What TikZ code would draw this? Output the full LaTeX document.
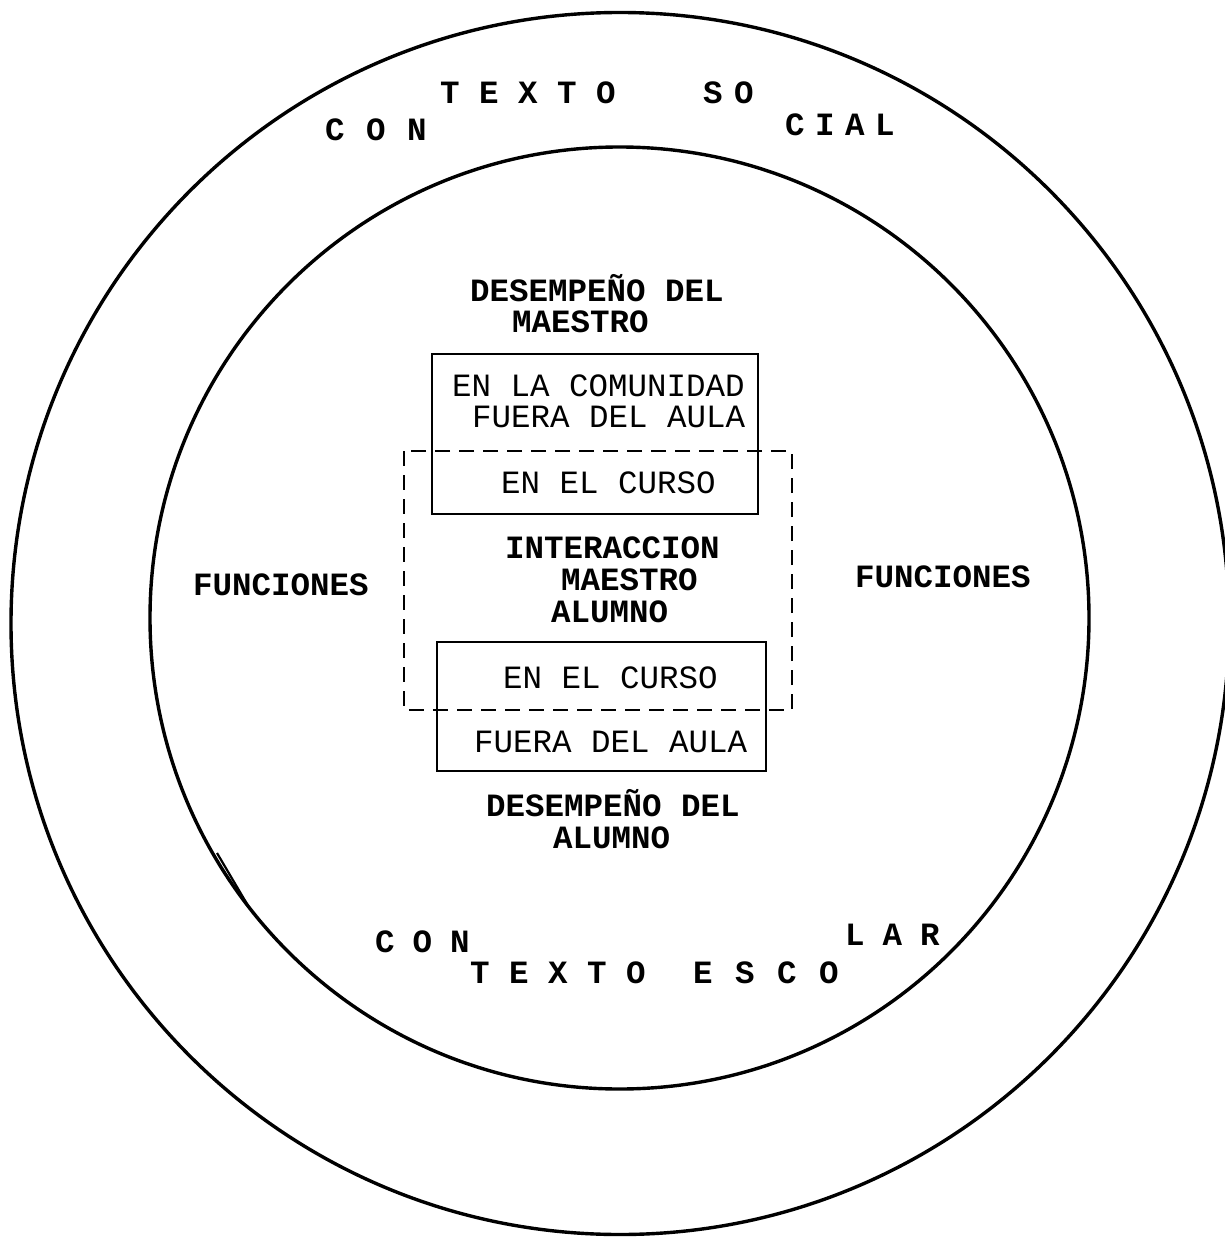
\documentclass[tikz,border=0pt]{standalone}
\usepackage{fontspec}
\setmonofont{Liberation Mono}
\newlength\lpitch
\newcommand\spl[1]{\makebox[\lpitch][l]{#1}}
\begin{document}
\begin{tikzpicture}[x=1pt,y=-1pt,
  ring/.style={line width=3.4pt},
  solidbox/.style={line width=2.8pt},
  dashbox/.style={line width=2.6pt,dash pattern=on 15pt off 9pt},
  reg/.style={anchor=west,inner sep=0pt,text height=21pt,text depth=0pt,font=\fontsize{32.5}{34}\selectfont\ttfamily},
  bld/.style={anchor=west,inner sep=0pt,text height=21pt,text depth=0pt,font=\fontsize{32.5}{34}\selectfont\ttfamily\bfseries},
]
\useasboundingbox (0,0) rectangle (1224,1238);
% rings
\draw[ring] (620,623.5) ellipse [x radius=609, y radius=611];
\draw[ring] (619.5,618) ellipse [x radius=469.5, y radius=471];
\draw[line width=2.2pt] (217,853) -- (250,909);
% boxes
\draw[solidbox] (432,354) rectangle (758,514);
\draw[dashbox] (404,451) rectangle (792,710);
\draw[solidbox] (437,642) rectangle (766,771);
% texts
\node[bld] (dm1) at (470,291) {DESEMPEÑO DEL};
\node[bld] (dm2) at (512,322) {MAESTRO};
\node[reg] (c1) at (452,386) {EN LA COMUNIDAD};
\node[reg] (c2) at (472,417) {FUERA DEL AULA};
\node[reg] (c3) at (501,483) {EN EL CURSO};
\node[bld] (i1) at (505,548) {INTERACCION};
\node[bld] (i2) at (561,580) {MAESTRO};
\node[bld] (i3) at (551,612) {ALUMNO};
\node[reg] (a1) at (503,678) {EN EL CURSO};
\node[reg] (a2) at (474,742) {FUERA DEL AULA};
\node[bld] (da1) at (486,806) {DESEMPEÑO DEL};
\node[bld] (da2) at (553,838) {ALUMNO};
\node[bld] (fl) at (193,585) {FUNCIONES};
\node[bld] (fr) at (855,577) {FUNCIONES};
% spaced labels
\node[bld] (s1) at (325,130) {\setlength\lpitch{41pt}\spl{C}\spl{O}\spl{N}};
\node[bld] (s2) at (440,93) {\setlength\lpitch{39pt}\spl{T}\spl{E}\spl{X}\spl{T}\spl{O}};
\node[bld] (s3) at (703,93) {\setlength\lpitch{31pt}\spl{S}\spl{O}};
\node[bld] (s4) at (785,125) {\setlength\lpitch{30pt}\spl{C}\spl{I}\spl{A}\spl{L}};
\node[bld] (e1) at (375,942) {\setlength\lpitch{37.5pt}\spl{C}\spl{O}\spl{N}};
\node[bld] (e2) at (470,973) {\setlength\lpitch{39pt}\spl{T}\spl{E}\spl{X}\spl{T}\spl{O}};
\node[bld] (e3) at (693,973) {\setlength\lpitch{42pt}\spl{E}\spl{S}\spl{C}\spl{O}};
\node[bld] (e4) at (845,935) {\setlength\lpitch{37.5pt}\spl{L}\spl{A}\spl{R}};
\end{tikzpicture}
\end{document}
